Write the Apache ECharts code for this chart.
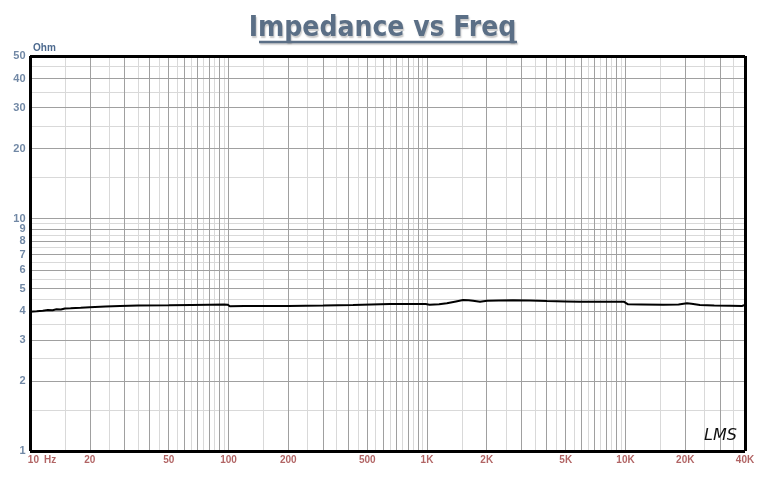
<!DOCTYPE html>
<html><head><meta charset="utf-8">
<script src="https://cdn.jsdelivr.net/npm/echarts@6/dist/echarts.min.js"></script>
<style>html,body{margin:0;padding:0;background:#fff}#c{width:765px;height:477px}</style>
</head><body><div id="c"></div>
<script>
// ---- data ----
const freqHz = [10, 10.8, 11.6, 12.3, 13, 13.6, 14.3, 15, 16, 18, 20, 24, 28.4, 35, 50, 65, 80, 95, 99, 101.5, 120, 200, 300, 424, 650, 900, 985, 1030, 1150, 1260, 1400, 1520, 1620, 1706, 1850, 2006, 2300, 2710, 3300, 4025, 5000, 5900, 7500, 9800, 10300, 12000, 15460, 18500, 20400, 21500, 23700, 28000, 33600, 38600, 40000];
const impedanceOhm = [3.97, 3.99, 4.01, 4.04, 4.03, 4.07, 4.06, 4.10, 4.11, 4.13, 4.15, 4.18, 4.20, 4.22, 4.235, 4.25, 4.258, 4.262, 4.26, 4.195, 4.20, 4.205, 4.22, 4.246, 4.288, 4.29, 4.285, 4.258, 4.28, 4.318, 4.40, 4.46, 4.455, 4.43, 4.386, 4.43, 4.44, 4.448, 4.44, 4.417, 4.40, 4.386, 4.386, 4.386, 4.275, 4.27, 4.258, 4.27, 4.318, 4.30, 4.246, 4.23, 4.217, 4.205, 4.25];

const xTickValues = [10, 20, 50, 100, 200, 500, 1000, 2000, 5000, 10000, 20000, 40000];
const xTickLabels = ['10 Hz', '20', '50', '100', '200', '500', '1K', '2K', '5K', '10K', '20K', '40K'];
const yTickValues = [1, 2, 3, 4, 5, 6, 7, 8, 9, 10, 20, 30, 40, 50];
const yTickLabels = ['1', '2', '3', '4', '5', '6', '7', '8', '9', '10', '20', '30', '40', '50'];

const gridMajorMantissa = [1, 2, 3, 4, 5, 6, 7, 8, 9];
const gridMinorMantissa = [1.5, 2.5, 3.5, 4.5, 5.5, 6.5, 7.5, 8.5, 9.5];
const xDecades = [10, 100, 1000, 10000];
const yDecades = [1, 10];

const X_MIN = 10, X_MAX = 40000, Y_MIN = 1, Y_MAX = 50;
const MAJOR_COLOR = '#a0a0a0', MINOR_COLOR = '#d9d9d9';
const NARROW = "'Liberation Sans Narrow','Arial Narrow','DejaVu Sans Condensed',Arial,sans-serif";
const SANS = "'Liberation Sans',Arial,sans-serif";

function gridValues(decades, mantissas, lo, hi) {
  const out = [];
  decades.forEach(d => mantissas.forEach(m => {
    const v = +(m * d).toPrecision(6);
    if (v > lo && v < hi) out.push(v);
  }));
  return out;
}
const gridLines = [];
gridValues(xDecades, gridMinorMantissa, X_MIN, X_MAX).forEach(v => gridLines.push({ xAxis: v, lineStyle: { color: MINOR_COLOR, width: 1, type: 'solid' } }));
gridValues(yDecades, gridMinorMantissa, Y_MIN, Y_MAX).forEach(v => gridLines.push({ yAxis: v, lineStyle: { color: MINOR_COLOR, width: 1, type: 'solid' } }));
gridValues(xDecades, gridMajorMantissa, X_MIN, X_MAX).forEach(v => gridLines.push({ xAxis: v, lineStyle: { color: MAJOR_COLOR, width: 1, type: 'solid' } }));
gridValues(yDecades, gridMajorMantissa, Y_MIN, Y_MAX).forEach(v => gridLines.push({ yAxis: v, lineStyle: { color: MAJOR_COLOR, width: 1, type: 'solid' } }));

const curve = freqHz.map((f, i) => [f, impedanceOhm[i]]);

const frameAxisLine = { show: true, lineStyle: { color: '#000', width: 3, cap: 'butt' } };
const baseX = { type: 'log', logBase: 10, min: X_MIN, max: X_MAX, axisTick: { show: false }, axisLabel: { show: false }, splitLine: { show: false }, axisLine: frameAxisLine, z: 10 };
const baseY = { type: 'log', logBase: 10, min: Y_MIN, max: Y_MAX, axisTick: { show: false }, axisLabel: { show: false }, splitLine: { show: false }, axisLine: frameAxisLine, z: 10 };

const chart = echarts.init(document.getElementById('c'), null, { renderer: 'canvas' });
chart.setOption({
  animation: false,
  backgroundColor: '#fff',
  title: {
    text: 'Impedance vs Freq',
    left: 'center',
    top: 10,
    textStyle: {
      fontFamily: NARROW, fontSize: 28, fontWeight: 'bold', color: '#5b6f86',
      textShadowColor: 'rgba(0,0,0,0.22)', textShadowBlur: 1.5, textShadowOffsetX: 1, textShadowOffsetY: 1.5
    }
  },
  graphic: [
    { type: 'line', shape: { x1: 259, y1: 42, x2: 517, y2: 42 }, style: { stroke: '#5b6f86', lineWidth: 2.5, shadowColor: 'rgba(0,0,0,0.22)', shadowBlur: 1.5, shadowOffsetX: 1, shadowOffsetY: 1.5 }, z: 100 },
    { type: 'text', left: 704, top: 428, style: { text: 'LMS', font: "italic 16px 'DejaVu Sans'", fill: '#111' }, z: 100 }
  ],
  grid: { left: 30, right: 20, top: 56, bottom: 26, containLabel: false },
  xAxis: [
    Object.assign({}, baseX, { position: 'bottom' }),
    Object.assign({}, baseX, { position: 'top' })
  ],
  yAxis: [
    Object.assign({}, baseY, {
      position: 'left', name: 'Ohm', nameLocation: 'end', nameGap: 3,
      nameTextStyle: { align: 'left', verticalAlign: 'bottom', padding: [0, 0, 0, 3], color: '#4d6a8f', fontSize: 10, fontWeight: 'bold', fontFamily: SANS }
    }),
    Object.assign({}, baseY, { position: 'right' })
  ],
  series: [
    {
      type: 'line', data: [], xAxisIndex: 0, yAxisIndex: 0, silent: true, z: 1,
      markLine: { silent: true, symbol: ['none', 'none'], label: { show: false }, animation: false, data: gridLines }
    },
    {
      type: 'line', name: 'Impedance', data: curve, xAxisIndex: 0, yAxisIndex: 0,
      showSymbol: false, symbol: 'none', silent: true, z: 5,
      lineStyle: { color: '#000', width: 2 }
    },
    {
      type: 'scatter', xAxisIndex: 0, yAxisIndex: 0, silent: true, clip: false, z: 6,
      symbolSize: 1, itemStyle: { color: 'rgba(0,0,0,0)' },
      data: xTickValues.map(v => [v, Y_MIN]),
      label: {
        show: true, position: 'bottom', distance: 4,
        color: '#9e3d3d', fontSize: 10, fontWeight: 'bold', fontFamily: SANS,
        formatter: p => p.dataIndex === 0 ? '{a|10}{b|Hz}' : xTickLabels[p.dataIndex],
        rich: {
          a: { color: '#9e3d3d', fontSize: 10, fontWeight: 'bold', fontFamily: SANS, padding: [0, 0, 0, 24] },
          b: { color: '#9e3d3d', fontSize: 10, fontWeight: 'bold', fontFamily: SANS, padding: [0, 0, 0, 5] }
        }
      }
    },
    {
      type: 'scatter', xAxisIndex: 0, yAxisIndex: 0, silent: true, clip: false, z: 6,
      symbolSize: 1, itemStyle: { color: 'rgba(0,0,0,0)' },
      data: yTickValues.map(v => [X_MIN, v]),
      label: {
        show: true, position: 'left', distance: 4,
        color: '#4d6a8f', fontSize: 11, fontWeight: 'bold', fontFamily: SANS,
        formatter: p => yTickLabels[p.dataIndex]
      }
    }
  ]
});
</script></body></html>
